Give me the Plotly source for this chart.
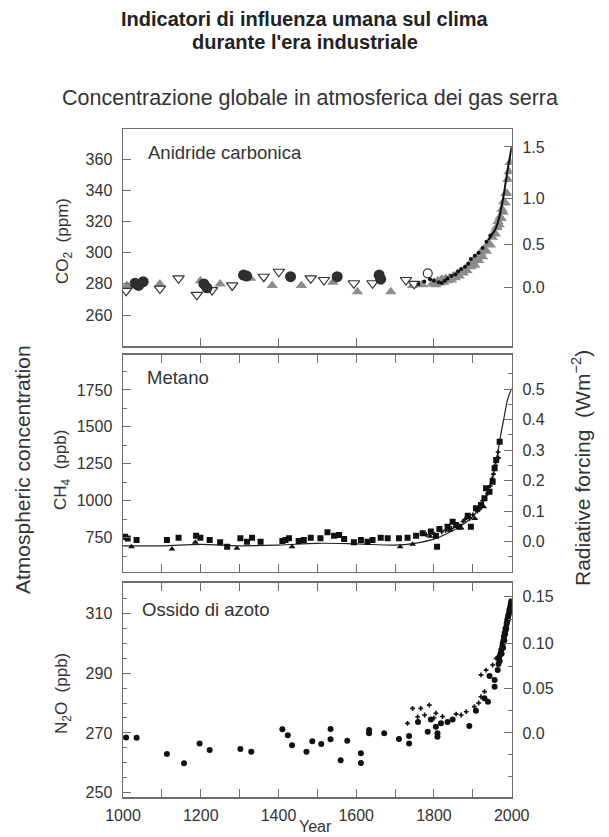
import plotly.graph_objects as go
import numpy as np

W, H = 609, 837
FONT = "Liberation Sans, Arial, sans-serif"
FRAME = "#6e6e6e"
TXT = "#333333"

# ---------------- CO2 panel data ----------------
co2_circle_year = [1031, 1040, 1052, 1208, 1216, 1310, 1318, 1431, 1551, 1659, 1663]
co2_circle_ppm = [280.4, 279.0, 281.4, 280.0, 277.5, 285.7, 285.0, 284.6, 284.6, 285.7, 283.0]

co2_tri_year = [1010, 1095, 1199, 1250, 1328, 1384, 1459, 1540, 1603, 1689, 1745, 1770]
co2_tri_ppm = [279.0, 280.0, 282.0, 280.0, 283.6, 279.0, 279.0, 281.0, 275.0, 275.0, 279.0, 279.5]

co2_tridown_year = [1008, 1095, 1143, 1190, 1229, 1281, 1362, 1401, 1483, 1517, 1594, 1642, 1728, 1749]
co2_tridown_ppm = [275.5, 277.0, 283.6, 273.0, 276.0, 279.0, 284.6, 287.8, 283.6, 282.5, 280.4, 280.4, 282.5, 280.0]

co2_open_year = [1784]
co2_open_ppm = [286.8]

co2_band_year = [1795, 1800, 1805, 1810, 1815, 1820, 1825, 1830, 1835, 1840, 1845, 1850, 1855, 1860,
                 1865, 1870, 1875, 1880, 1885, 1890, 1895, 1900, 1905, 1910, 1915, 1920, 1925, 1930,
                 1935, 1940, 1945, 1950, 1955, 1958, 1960, 1963, 1965, 1968, 1970, 1973, 1975, 1978,
                 1980, 1983, 1985, 1988, 1990, 1993, 1996]
co2_band_ppm = [280.0, 281.0, 279.5, 282.0, 280.5, 283.0, 281.0, 283.5, 282.0, 284.0, 282.5, 285.0, 284.0,
                286.5, 285.0, 288.0, 287.0, 289.5, 288.5, 292.0, 291.0, 294.5, 292.0, 297.0, 295.0,
                300.0, 297.5, 302.5, 301.0, 306.0, 305.0, 310.0, 313.0, 312.0, 316.0, 316.5, 320.0,
                318.0, 323.0, 322.0, 328.0, 326.0, 333.0, 332.0, 338.0, 338.0, 347.0, 352.0, 358.0]

co2_dot_year = [1760, 1775, 1790, 1800, 1812, 1820, 1828, 1835, 1845, 1855, 1862, 1870, 1880,
                1888, 1895, 1905, 1915, 1925, 1935, 1945]
co2_dot_ppm = [280.0, 281.5, 283.0, 282.0, 281.0, 280.5, 282.0, 283.5, 285.0, 286.0, 288.0, 289.5, 291.0,
               293.0, 296.0, 298.0, 300.0, 303.0, 307.0, 311.0]

co2_line_year = [1940, 1950, 1958, 1965, 1970, 1975, 1980, 1985, 1990, 1995, 2000]
co2_line_ppm = [308.0, 312.0, 315.0, 320.0, 325.0, 331.0, 338.0, 346.0, 354.0, 361.0, 368.0]

co2_ticks = [260, 280, 300, 320, 340, 360]
co2_forcing_labels = [0.0, 0.5, 1.0, 1.5]

# ---------------- CH4 panel data ----------------
ch4_sq_year = [1005, 1012, 1035, 1113, 1143, 1188, 1199, 1223, 1250, 1268, 1302, 1319, 1332, 1354,
               1410, 1418, 1427, 1452, 1465, 1483, 1508, 1526, 1543, 1556, 1569, 1594, 1612, 1629,
               1642, 1663, 1681, 1710, 1732, 1754, 1771, 1792, 1805, 1808, 1814, 1835, 1848, 1857,
               1865, 1887, 1895, 1908, 1921, 1930, 1934, 1943, 1951, 1956, 1960, 1969]
ch4_sq_ppb = [757, 745, 734, 734, 750, 763, 750, 734, 719, 689, 746, 723, 750, 723,
              728, 735, 746, 728, 734, 750, 746, 787, 763, 768, 741, 719, 734, 723,
              734, 750, 746, 746, 750, 763, 780, 791, 763, 689, 809, 824, 858, 836,
              824, 899, 824, 949, 971, 1017, 1084, 1061, 1129, 1220, 1276, 1400]

ch4_tri_year = [1022, 1126, 1186, 1293, 1435, 1713, 1745, 1790, 1840, 1870, 1905, 1928]
ch4_tri_ppb = [689, 673, 719, 678, 689, 689, 705, 760, 800, 815, 880, 960]

ch4_small_year = [1780, 1800, 1820, 1830, 1845, 1860, 1875, 1880, 1892, 1900, 1912, 1918, 1925,
                  1938, 1945, 1950, 1953, 1958, 1962, 1965, 1966]
ch4_small_ppb = [770, 775, 790, 800, 812, 830, 860, 875, 880, 905, 930, 945, 1000,
                 1050, 1100, 1150, 1180, 1240, 1290, 1330, 1290]

ch4_line_year = [1000, 1100, 1200, 1300, 1400, 1500, 1600, 1700, 1750, 1800, 1850, 1875, 1900,
                 1925, 1950, 1960, 1970, 1980, 1990, 2000]
ch4_line_ppb = [695, 695, 705, 695, 700, 712, 708, 700, 712, 740, 800, 840, 895,
                990, 1150, 1260, 1420, 1560, 1690, 1760]

ch4_ticks = [750, 1000, 1250, 1500, 1750]
ch4_forcing_major = [0.0, 0.1, 0.2, 0.3, 0.4, 0.5]
ch4_forcing_minor = [-0.05, 0.05, 0.15, 0.25, 0.35, 0.45, 0.55]

# ---------------- N2O panel data ----------------
n2o_big_year = [1008, 1035, 1113, 1157, 1197, 1223, 1302, 1330, 1410, 1424, 1435, 1472, 1487, 1510,
                1534, 1534, 1560, 1577, 1612, 1612, 1633, 1633, 1672, 1710, 1736, 1736, 1759,
                1784, 1792, 1805, 1809, 1809, 1818, 1835, 1848, 1891, 1908, 1930, 1939, 1943,
                1956, 1956, 1964]
n2o_big_ppb = [268.5, 268.4, 263.0, 259.9, 266.5, 264.3, 264.6, 263.7, 271.2, 269.2, 265.9, 263.7, 267.2, 266.3,
               271.3, 267.9, 260.9, 267.4, 263.2, 260.0, 271.0, 269.9, 269.9, 268.0, 269.0, 266.5, 273.7,
               270.4, 274.5, 272.1, 269.9, 268.7, 273.2, 273.7, 274.5, 272.3, 277.4, 281.6, 280.4, 289.0,
               287.7, 285.4, 291.0]

n2o_small_year = [1732, 1745, 1758, 1766, 1776, 1788, 1800, 1805, 1822, 1857, 1870, 1883, 1904,
                  1915, 1921, 1921, 1930, 1934, 1951, 1960]
n2o_small_ppb = [273.2, 278.2, 275.4, 278.2, 276.0, 279.3, 275.0, 276.6, 275.5, 276.3, 276.0, 277.1, 278.8,
                 280.0, 282.1, 289.4, 283.8, 291.0, 292.7, 294.9]

n2o_dense_year = [1966, 1968, 1969, 1971, 1973, 1974, 1976, 1977, 1978, 1979, 1980, 1981, 1982,
                  1983, 1984, 1985, 1986, 1987, 1988, 1989, 1990, 1991, 1992, 1993, 1994, 1995,
                  1996, 1997, 1998, 1999]
n2o_dense_ppb = [293.0, 295.5, 294.0, 296.5, 297.7, 296.5, 299.0, 300.0, 298.5, 301.0, 302.2, 301.0, 303.5,
                 303.0, 305.0, 304.5, 305.0, 306.5, 307.0, 308.0, 307.8, 309.0, 309.5, 310.0, 311.1, 310.5,
                 312.0, 312.8, 313.5, 314.0]

n2o_ticks = [250, 270, 290, 310]
n2o_forcing_major = [0.0, 0.05, 0.10, 0.15]
n2o_forcing_minor = [-0.05, -0.025, 0.025, 0.075, 0.125]

x_ticks = [1000, 1100, 1200, 1300, 1400, 1500, 1600, 1700, 1800, 1900, 2000]
x_labels = ["1000", "", "1200", "", "1400", "", "1600", "", "1800", "", "2000"]


# --------------- helpers ---------------
def px_x(p):
    return p / W


def px_y(p):
    return 1 - p / H


X_DOM = [px_x(123), px_x(511.7)]
DOM_TOP = [px_y(346), px_y(129)]
DOM_MID = [px_y(571.5), px_y(354.5)]
DOM_BOT = [px_y(797.3), px_y(582.7)]


def co2_from_forcing(f):
    return 278.0 * np.exp(f / 5.35)


def n2o_from_forcing(f):
    return (np.sqrt(270.0) + f / 0.1125) ** 2


fig = go.Figure()

# CO2 traces (x3, y3)
fig.add_trace(go.Scatter(x=co2_band_year, y=co2_band_ppm, mode="markers", xaxis="x3", yaxis="y3",
                         marker=dict(symbol="triangle-up", size=10, color="#8c8c8c")))
fig.add_trace(go.Scatter(x=co2_tri_year, y=co2_tri_ppm, mode="markers", xaxis="x3", yaxis="y3",
                         marker=dict(symbol="triangle-up", size=10, color="#8c8c8c")))
fig.add_trace(go.Scatter(x=co2_tridown_year, y=co2_tridown_ppm, mode="markers", xaxis="x3", yaxis="y3",
                         marker=dict(symbol="triangle-down", size=10, color="white",
                                     line=dict(color="#333", width=1.2))))
fig.add_trace(go.Scatter(x=co2_circle_year, y=co2_circle_ppm, mode="markers", xaxis="x3", yaxis="y3",
                         marker=dict(symbol="circle", size=11, color="#2e2e2e")))
fig.add_trace(go.Scatter(x=co2_open_year, y=co2_open_ppm, mode="markers", xaxis="x3", yaxis="y3",
                         marker=dict(symbol="circle", size=9, color="white",
                                     line=dict(color="#333", width=1.2))))
fig.add_trace(go.Scatter(x=co2_dot_year, y=co2_dot_ppm, mode="markers", xaxis="x3", yaxis="y3",
                         marker=dict(symbol="circle", size=4, color="#111")))
fig.add_trace(go.Scatter(x=co2_line_year, y=co2_line_ppm, mode="lines", xaxis="x3", yaxis="y3",
                         line=dict(color="#111", width=2, shape="spline")))
fig.add_trace(go.Scatter(x=[None], y=[None], xaxis="x3", yaxis="y6", mode="markers"))

# CH4 traces (x2, y2)
fig.add_trace(go.Scatter(x=ch4_line_year, y=ch4_line_ppb, mode="lines", xaxis="x2", yaxis="y2",
                         line=dict(color="#222", width=1.2, shape="spline")))
fig.add_trace(go.Scatter(x=ch4_sq_year, y=ch4_sq_ppb, mode="markers", xaxis="x2", yaxis="y2",
                         marker=dict(symbol="square", size=6, color="#111")))
fig.add_trace(go.Scatter(x=ch4_tri_year, y=ch4_tri_ppb, mode="markers", xaxis="x2", yaxis="y2",
                         marker=dict(symbol="triangle-up", size=6, color="#111")))
fig.add_trace(go.Scatter(x=ch4_small_year, y=ch4_small_ppb, mode="markers", xaxis="x2", yaxis="y2",
                         marker=dict(symbol="cross", size=4, color="#111")))
fig.add_trace(go.Scatter(x=[None], y=[None], xaxis="x2", yaxis="y5", mode="markers"))

# N2O traces (x, y)
fig.add_trace(go.Scatter(x=n2o_big_year, y=n2o_big_ppb, mode="markers", xaxis="x", yaxis="y",
                         marker=dict(symbol="circle", size=6, color="#111")))
fig.add_trace(go.Scatter(x=n2o_small_year, y=n2o_small_ppb, mode="markers", xaxis="x", yaxis="y",
                         marker=dict(symbol="cross", size=4, color="#111")))
fig.add_trace(go.Scatter(x=n2o_dense_year, y=n2o_dense_ppb, mode="markers", xaxis="x", yaxis="y",
                         marker=dict(symbol="circle", size=6, color="#111")))
fig.add_trace(go.Scatter(x=[None], y=[None], xaxis="x", yaxis="y4", mode="markers"))

tickfont = dict(family=FONT, size=16, color=TXT)
common_x = dict(range=[1000, 2000], domain=X_DOM, showline=True, linecolor=FRAME, linewidth=1.5,
                showgrid=False, zeroline=False, ticks="inside", ticklen=8, tickcolor=FRAME, tickwidth=1,
                tickfont=tickfont, automargin=False)
common_y = dict(showline=True, linecolor=FRAME, linewidth=1.5, showgrid=False, zeroline=False,
                ticks="inside", ticklen=8, tickcolor=FRAME, tickwidth=1, tickfont=tickfont,
                ticklabelstandoff=6, automargin=False)

fig.update_layout(
    width=W, height=H, margin=dict(l=0, r=0, t=0, b=0, autoexpand=False),
    paper_bgcolor="white", plot_bgcolor="white", showlegend=False, hovermode=False,
    font=dict(family=FONT, color=TXT),
    xaxis=dict(common_x, anchor="y", mirror="ticks", tickmode="array", tickvals=x_ticks,
               ticktext=x_labels, ticklabelstandoff=3),
    xaxis2=dict(common_x, anchor="y2", mirror="ticks", tickmode="array", tickvals=x_ticks,
                showticklabels=False),
    xaxis3=dict(common_x, anchor="y3", mirror=True, tickmode="array",
                tickvals=[1200, 1400, 1600, 1800], showticklabels=False),
    yaxis=dict(common_y, domain=DOM_BOT, anchor="x", range=[248.5, 320.2], mirror=True,
               tickmode="array", tickvals=n2o_ticks,
               minor=dict(dtick=5, tick0=250, ticks="inside", ticklen=4, tickcolor=FRAME)),
    yaxis2=dict(common_y, domain=DOM_MID, anchor="x2", range=[521, 1990], mirror=True,
                tickmode="array", tickvals=ch4_ticks,
                minor=dict(dtick=125, tick0=0, ticks="inside", ticklen=4, tickcolor=FRAME)),
    yaxis3=dict(common_y, domain=DOM_TOP, anchor="x3", range=[240.1, 379.5], mirror=True,
                tickmode="array", tickvals=co2_ticks),
    yaxis4=dict(common_y, overlaying="y", anchor="x", side="right", range=[248.5, 320.2],
                tickmode="array", tickvals=[n2o_from_forcing(f) for f in n2o_forcing_major],
                ticktext=["0.0", "0.05", "0.10", "0.15"],
                minor=dict(tickmode="array", tickvals=[n2o_from_forcing(f) for f in n2o_forcing_minor],
                           ticks="inside", ticklen=4, tickcolor=FRAME)),
    yaxis5=dict(common_y, overlaying="y2", anchor="x2", side="right", range=[-0.0977, 0.6138],
                tickmode="array", tickvals=ch4_forcing_major,
                ticktext=["%.1f" % f for f in ch4_forcing_major],
                minor=dict(tickmode="array", tickvals=ch4_forcing_minor, ticks="inside",
                           ticklen=4, tickcolor=FRAME)),
    yaxis6=dict(common_y, overlaying="y3", anchor="x3", side="right", range=[240.1, 379.5],
                tickmode="array", tickvals=[co2_from_forcing(f) for f in co2_forcing_labels],
                ticktext=["%.1f" % f for f in co2_forcing_labels]),
)


def ann(text, xp, yp, size, angle=0, xanchor="center", bold=False):
    fig.add_annotation(text=("<b>%s</b>" % text) if bold else text, x=px_x(xp), y=px_y(yp),
                       xref="paper", yref="paper", showarrow=False, textangle=angle,
                       xanchor=xanchor, yanchor="middle",
                       font=dict(family=FONT, size=size, color="#222" if bold else TXT))


ann("Indicatori di influenza umana sul clima", 305, 19, 20, bold=True)
ann("durante l'era industriale", 305, 42, 20, bold=True)
ann("Concentrazione globale in atmosferica dei gas serra", 310, 98, 21.5)
ann("Anidride carbonica", 146, 152, 18.5, xanchor="left")
ann("Metano", 145, 377, 18.5, xanchor="left")
ann("Ossido di azoto", 140, 609, 18.5, xanchor="left")
ann("CO<sub>2</sub>  (ppm)", 64, 241, 17, angle=-90)
ann("CH<sub>4</sub>  (ppb)", 62, 470, 17, angle=-90)
ann("N<sub>2</sub>O  (ppb)", 63, 694, 17, angle=-90)
ann("Atmospheric concentration", 22, 470, 21, angle=-90)
ann("Radiative forcing  (Wm<sup>−2</sup>)", 581, 468, 21, angle=-90)
ann("Year", 315, 826, 16)

fig.write_html("out.html", config={"displayModeBar": False, "staticPlot": True},
               post_script="document.body.style.margin='0';document.body.style.padding='0';")
